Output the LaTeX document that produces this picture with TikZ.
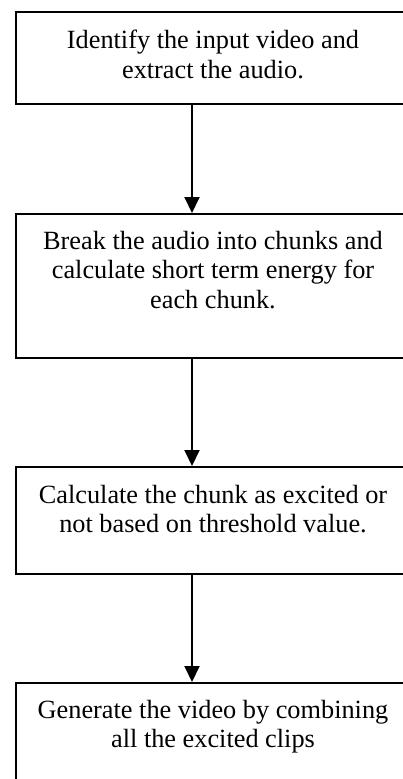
\documentclass[tikz,border=0pt]{standalone}
\usepackage{fontspec}
\setmainfont{Liberation Serif}
\usetikzlibrary{arrows.meta}

\tikzset{
  stepbox/.style={draw=black, line width=2pt, rectangle, inner sep=0pt,
    minimum width=410pt, anchor=north west},
  steptext/.style={anchor=north, inner sep=0pt, align=center,
    font=\fontsize{26.3}{29.5}\selectfont},
  flow/.style={line width=2pt, -{Triangle[width=15pt,length=16pt]}}
}

\begin{document}
\begin{tikzpicture}[x=1pt,y=-1pt]
  \useasboundingbox (0,0) rectangle (403,779);
  \clip (0,0) rectangle (403,779);
  \fill[white] (0,0) rectangle (403,779);

  % process boxes (the right side runs past the page edge)
  \node[stepbox, minimum height=92pt]  (b1) at (14.5,11)  {};
  \node[stepbox, minimum height=144pt] (b2) at (14.5,213) {};
  \node[stepbox, minimum height=107pt] (b3) at (14.5,466) {};
  \node[stepbox, minimum height=120pt] (b4) at (14.5,682) {};

  % box texts
  \node[steptext] (t1) at (213,30)  {Identify the input video and\\extract the audio.};
  \node[steptext] (t2) at (213,231) {Break the audio into chunks and\\calculate short term energy for\\each chunk.};
  \node[steptext] (t3) at (213,485) {Calculate the chunk as excited or\\not based on threshold value.};
  \node[steptext] (t4) at (213,700) {Generate the video by combining\\all the excited clips};

  % connectors
  \coordinate (ax) at (192,0);
  \draw[flow] (b1.south -| ax) -- (b2.north -| ax);
  \draw[flow] (b2.south -| ax) -- (b3.north -| ax);
  \draw[flow] (b3.south -| ax) -- (b4.north -| ax);
\end{tikzpicture}
\end{document}
